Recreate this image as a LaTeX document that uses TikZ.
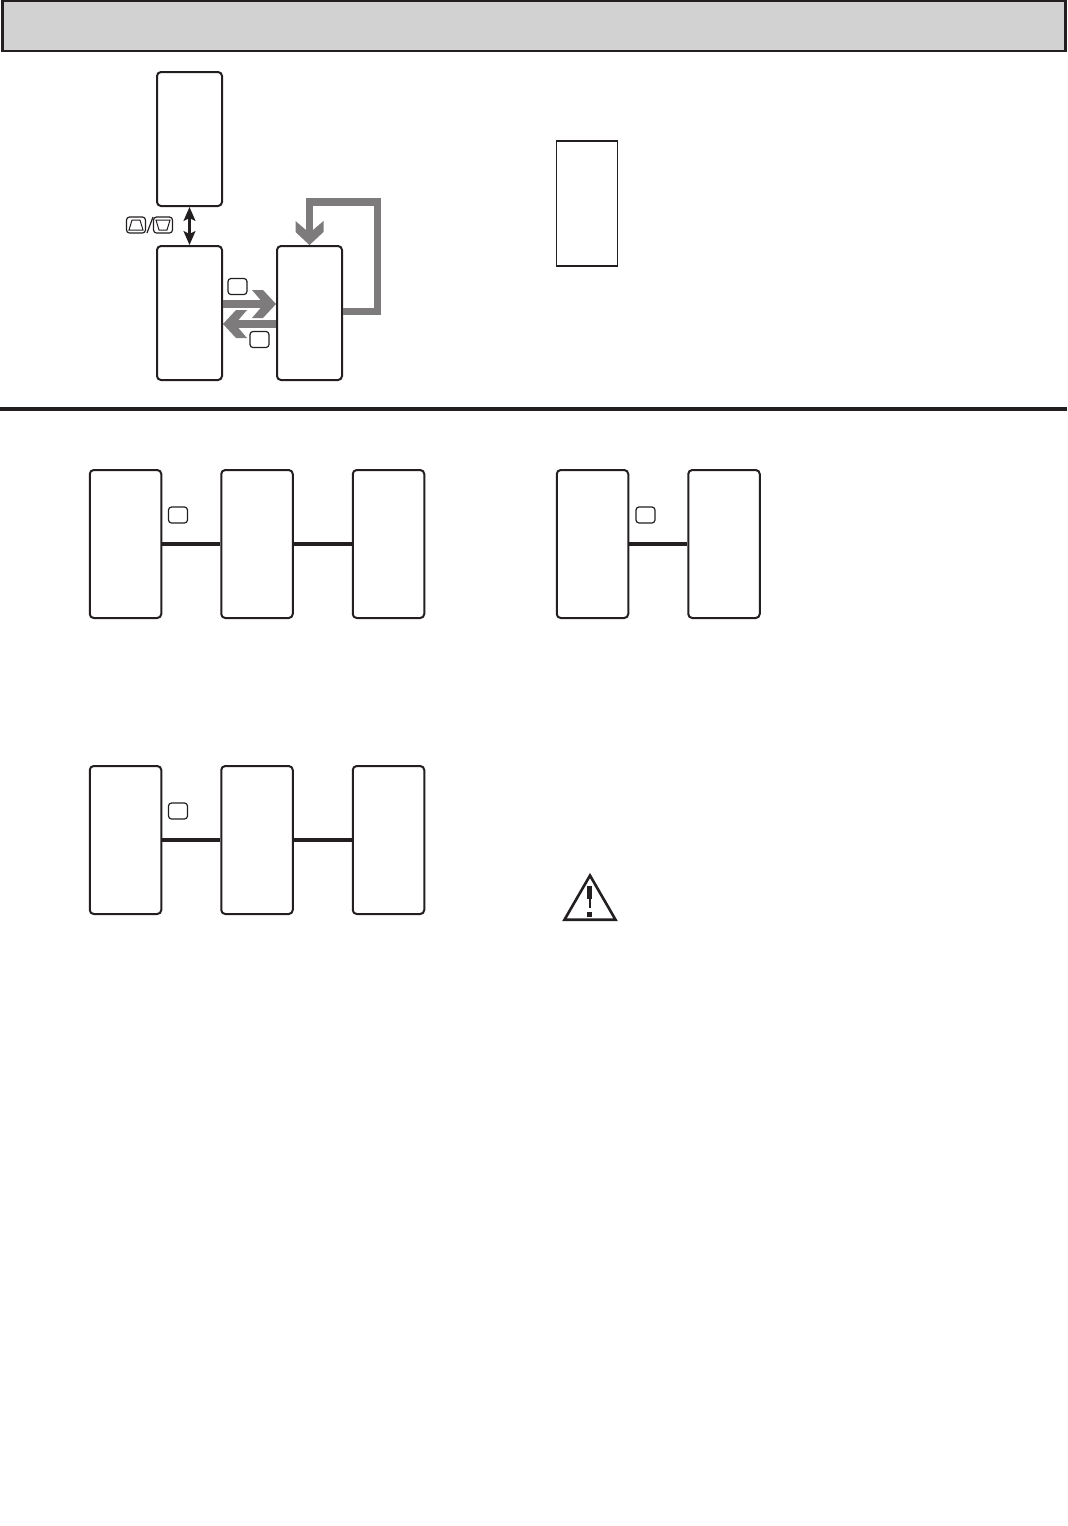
\documentclass[tikz,border=0pt]{standalone}
\usepackage{tikz}
\usetikzlibrary{arrows,arrows.meta,shapes.geometric}
\definecolor{barfill}{HTML}{D2D2D2}
\definecolor{flowgrey}{HTML}{7D7B7C}
\definecolor{inkblack}{HTML}{231F20}
\pgfdeclarearrow{
  name = Chevron,
  setup code = {\pgfarrowssettipend{0pt}\pgfarrowssetbackend{-12pt}\pgfarrowssetlineend{-6pt}\pgfarrowssetvisualbackend{-6pt}},
  drawing code = {
    \pgfpathmoveto{\pgfqpoint{0pt}{0pt}}
    \pgfpathlineto{\pgfqpoint{-6.5pt}{7pt}}
    \pgfpathlineto{\pgfqpoint{-12pt}{7pt}}
    \pgfpathlineto{\pgfqpoint{-6pt}{0pt}}
    \pgfpathlineto{\pgfqpoint{-12pt}{-7pt}}
    \pgfpathlineto{\pgfqpoint{-6.5pt}{-7pt}}
    \pgfpathclose
    \pgfusepathqfill}
}
\tikzstyle{panel} = [draw=inkblack, line width=1pt, rounded corners=2pt, inner sep=0pt, fill=white]
\tikzstyle{tallpanel} = [panel, minimum width=32.5pt, minimum height=67pt]
\tikzstyle{widepanel} = [panel, minimum width=35.75pt, minimum height=74pt]
\tikzstyle{keycap} = [draw=inkblack, line width=0.6pt, rounded corners=1.5pt, inner sep=0pt, minimum width=9.5pt, minimum height=8pt]
\tikzstyle{link} = [draw=inkblack, line width=2pt]
\tikzstyle{flow} = [draw=flowgrey, line width=3.7pt, -{Chevron[]}]

\begin{document}
\begin{tikzpicture}[x=0.5pt,y=-0.5pt,node distance=65.75pt]
\useasboundingbox (0,0) rectangle (1067,1526);

% header and rule
\node[draw=inkblack, fill=barfill, line width=1.2pt, inner sep=0pt, minimum width=531.5pt, minimum height=25pt] (bar) at (534,26) {};
\coordinate (ruleL) at (0,409);
\coordinate (ruleR) at (1067,409);
\draw[inkblack, line width=2pt] (ruleL) -- (ruleR);

% menu
\node[tallpanel] (menu) at (189.5,139) {};
\node[tallpanel, below of = menu, node distance=87pt] (param) {};
\node[tallpanel, right of = param, node distance=60pt] (value) {};
\node[draw=inkblack, line width=0.8pt, inner sep=0pt, minimum width=30.5pt, minimum height=62.5pt] (note) at (587,203.5) {};

\node[keycap] (keyon) at (237.5,286.5) {};
\node[keycap] (keyoff) at (259.5,339.5) {};
\node[keycap] (keyup) at (136,225) {};
\node[keycap] (keydown) at (163,225) {};
\draw[inkblack, line width=0.5pt] (keyup) ++(-4,-5) -- ++(8,0) -- ++(3,10) -- ++(-14,0) -- cycle;
\draw[inkblack, line width=0.5pt] (keydown) ++(-7,-5) -- ++(14,0) -- ++(-3,10) -- ++(-8,0) -- cycle;
\coordinate (slashA) at (147,233);
\coordinate (slashB) at (153,217);
\draw[inkblack, line width=0.6pt] (slashA) -- (slashB);

\draw[inkblack, line width=1.1pt, {Stealth[length=7pt,width=6pt,inset=1.5pt]}-{Stealth[length=7pt,width=6pt,inset=1.5pt]}] (menu.south) -- (param.north);

\draw[flow] ([yshift=4.5pt]param.east) -- ([yshift=4.5pt]value.west);
\draw[flow] ([yshift=-5.5pt]value.west) -- ([yshift=-5.5pt]param.east);
\coordinate (loopcorner) at (377.5,202);
\draw[flow] ([yshift=0.75pt]value.east) -| (loopcorner) -| (value.north);

% first row
\node[widepanel] (r1a) at (125.5,544) {};
\node[widepanel, right of = r1a] (r1b) {};
\node[widepanel, right of = r1b] (r1c) {};
\node[keycap] (r1key) at (178,515) {};
\path[link]
(r1a) edge [] node {} (r1b)
(r1b) edge [] node {} (r1c);

% second pair
\node[widepanel] (r2a) at (592.5,544) {};
\node[widepanel, right of = r2a] (r2b) {};
\node[keycap] (r2key) at (645.5,515) {};
\path[link]
(r2a) edge [] node {} (r2b);

% third row
\node[widepanel] (r3a) at (125.5,840) {};
\node[widepanel, right of = r3a] (r3b) {};
\node[widepanel, right of = r3b] (r3c) {};
\node[keycap] (r3key) at (178,811) {};
\path[link]
(r3a) edge [] node {} (r3b)
(r3b) edge [] node {} (r3c);

% warning sign
\node[draw=inkblack, line width=1.3pt, regular polygon, regular polygon sides=3, inner sep=0pt, minimum size=29.5pt] (warn) at (590,905) {};
\coordinate (barktop) at (589.5,886);
\coordinate (barkmid) at (589.5,899);
\coordinate (barkend) at (589.5,908);
\coordinate (barkdot) at (589.5,912);
\coordinate (barkfoot) at (589.5,916.5);
\draw[inkblack, line width=2.2pt] (barktop) -- (barkmid);
\draw[inkblack, line width=1pt] (barkmid) -- (barkend);
\draw[inkblack, line width=2.8pt] (barkdot) -- (barkfoot);
\end{tikzpicture}
\end{document}
